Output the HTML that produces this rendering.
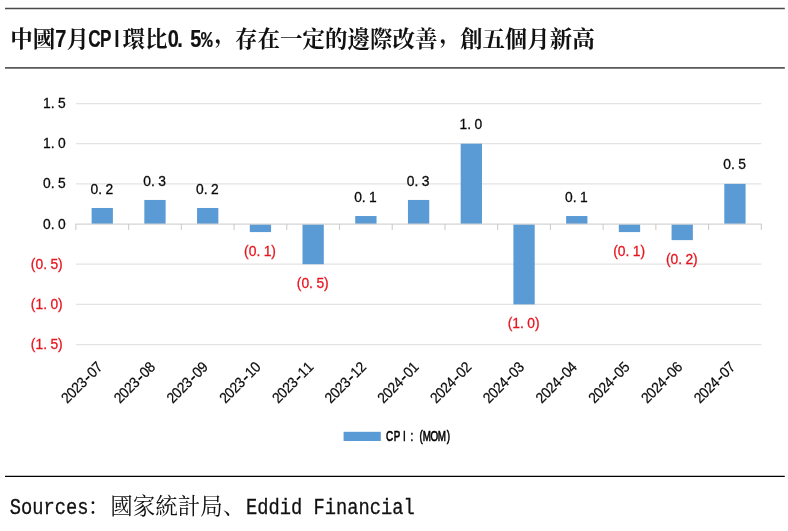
<!DOCTYPE html>
<html lang="zh-CN">
<head>
<meta charset="utf-8">
<title>中國7月CPI環比</title>
<style>
html,body{margin:0;padding:0;background:#fff;}
body{width:788px;height:531px;overflow:hidden;font-family:"Liberation Sans","Noto Serif CJK SC",sans-serif;}
svg{display:block;}
</style>
</head>
<body>
<svg width="788" height="531" viewBox="0 0 788 531">
<rect width="788" height="531" fill="#fff"/>
<line x1="5" x2="784.8" y1="8.5" y2="8.5" stroke="#4a4a4a" stroke-width="1.3"/>
<line x1="5" x2="784.8" y1="67.9" y2="67.9" stroke="#5a5a5a" stroke-width="1.8"/>
<line x1="5" x2="784.8" y1="476.3" y2="476.3" stroke="#000" stroke-width="1.3"/>
<g id="title">
<text x="10.20 32.69" y="46.60 46.60" font-family='"Liberation Serif", "Noto Serif CJK SC", serif' font-size="22.485" font-weight="bold" fill="#111">中國</text>
<text transform="translate(55.17 46.60) scale(0.86 1)" x="6.54" y="0" text-anchor="middle" font-family='"Liberation Sans", sans-serif' font-size="23.2" font-weight="bold" fill="#111" stroke="#111" stroke-width="0.2">7</text>
<text x="66.41" y="46.60" font-family='"Liberation Serif", "Noto Serif CJK SC", serif' font-size="22.485" font-weight="bold" fill="#111">月</text>
<text transform="translate(88.90 46.60) scale(0.74 1)" x="7.60 22.79 37.98" y="0" text-anchor="middle" font-family='"Liberation Sans", sans-serif' font-size="23.2" font-weight="bold" fill="#111" stroke="#111" stroke-width="0.2">CPI</text>
<text x="122.62 145.11" y="46.60 46.60" font-family='"Liberation Serif", "Noto Serif CJK SC", serif' font-size="22.485" font-weight="bold" fill="#111">環比</text>
<text transform="translate(167.59 46.60) scale(0.86 1)" x="6.54 14.38 32.68 45.75" y="0" text-anchor="middle" font-family='"Liberation Sans", sans-serif' font-size="23.2" font-weight="bold" fill="#111" stroke="#111" stroke-width="0.2">0.5<tspan font-family='"Liberation Mono", monospace' font-size="22.5">%</tspan></text>
<text x="214.56 235.05 257.53 280.02 302.50 324.99 347.48 369.96 392.44 414.93 439.41 459.90 482.38 504.87 527.36 549.84 572.33" y="42.30 46.60 46.60 46.60 46.60 46.60 46.60 46.60 46.60 46.60 42.30 46.60 46.60 46.60 46.60 46.60 46.60" font-family='"Liberation Serif", "Noto Serif CJK SC", serif' font-size="22.485" font-weight="bold" fill="#111">，存在一定的邊際改善，創五個月新高</text>
</g>
<line x1="75.90" x2="761.30" y1="344.56" y2="344.56" stroke="#e3e3e3" stroke-width="1.2"/>
<line x1="75.90" x2="761.30" y1="304.39" y2="304.39" stroke="#e3e3e3" stroke-width="1.2"/>
<line x1="75.90" x2="761.30" y1="264.22" y2="264.22" stroke="#e3e3e3" stroke-width="1.2"/>
<line x1="75.90" x2="761.30" y1="183.88" y2="183.88" stroke="#e3e3e3" stroke-width="1.2"/>
<line x1="75.90" x2="761.30" y1="143.71" y2="143.71" stroke="#e3e3e3" stroke-width="1.2"/>
<line x1="75.90" x2="761.30" y1="103.54" y2="103.54" stroke="#e3e3e3" stroke-width="1.2"/>
<rect x="91.61" y="207.98" width="21.30" height="16.07" fill="#5b9bd5"/>
<rect x="144.33" y="199.95" width="21.30" height="24.10" fill="#5b9bd5"/>
<rect x="197.06" y="207.98" width="21.30" height="16.07" fill="#5b9bd5"/>
<rect x="249.78" y="224.05" width="21.30" height="8.03" fill="#5b9bd5"/>
<rect x="302.50" y="224.05" width="21.30" height="40.17" fill="#5b9bd5"/>
<rect x="355.23" y="216.02" width="21.30" height="8.03" fill="#5b9bd5"/>
<rect x="407.95" y="199.95" width="21.30" height="24.10" fill="#5b9bd5"/>
<rect x="460.67" y="143.71" width="21.30" height="80.34" fill="#5b9bd5"/>
<rect x="513.40" y="224.05" width="21.30" height="80.34" fill="#5b9bd5"/>
<rect x="566.12" y="216.02" width="21.30" height="8.03" fill="#5b9bd5"/>
<rect x="618.84" y="224.05" width="21.30" height="8.03" fill="#5b9bd5"/>
<rect x="671.57" y="224.05" width="21.30" height="16.07" fill="#5b9bd5"/>
<rect x="724.29" y="183.88" width="21.30" height="40.17" fill="#5b9bd5"/>
<line x1="75.30" x2="761.90" y1="224.05" y2="224.05" stroke="#d4d4d4" stroke-width="1.3"/>
<line x1="75.90" x2="75.90" y1="224.05" y2="230.05" stroke="#cdcdcd" stroke-width="1.1"/>
<line x1="128.62" x2="128.62" y1="224.05" y2="230.05" stroke="#cdcdcd" stroke-width="1.1"/>
<line x1="181.35" x2="181.35" y1="224.05" y2="230.05" stroke="#cdcdcd" stroke-width="1.1"/>
<line x1="234.07" x2="234.07" y1="224.05" y2="230.05" stroke="#cdcdcd" stroke-width="1.1"/>
<line x1="286.79" x2="286.79" y1="224.05" y2="230.05" stroke="#cdcdcd" stroke-width="1.1"/>
<line x1="339.52" x2="339.52" y1="224.05" y2="230.05" stroke="#cdcdcd" stroke-width="1.1"/>
<line x1="392.24" x2="392.24" y1="224.05" y2="230.05" stroke="#cdcdcd" stroke-width="1.1"/>
<line x1="444.96" x2="444.96" y1="224.05" y2="230.05" stroke="#cdcdcd" stroke-width="1.1"/>
<line x1="497.68" x2="497.68" y1="224.05" y2="230.05" stroke="#cdcdcd" stroke-width="1.1"/>
<line x1="550.41" x2="550.41" y1="224.05" y2="230.05" stroke="#cdcdcd" stroke-width="1.1"/>
<line x1="603.13" x2="603.13" y1="224.05" y2="230.05" stroke="#cdcdcd" stroke-width="1.1"/>
<line x1="655.85" x2="655.85" y1="224.05" y2="230.05" stroke="#cdcdcd" stroke-width="1.1"/>
<line x1="708.58" x2="708.58" y1="224.05" y2="230.05" stroke="#cdcdcd" stroke-width="1.1"/>
<line x1="761.30" x2="761.30" y1="224.05" y2="230.05" stroke="#cdcdcd" stroke-width="1.1"/>
<text transform="translate(101.86 193.58) scale(0.93 1)" x="-8.06 -1.83 8.06" y="0" text-anchor="middle" font-family='"Liberation Sans", sans-serif' font-size="14.9" font-weight="normal" fill="#0a0a0a" stroke="#0a0a0a" stroke-width="0.3">0.2</text>
<text transform="translate(154.58 185.55) scale(0.93 1)" x="-8.06 -1.83 8.06" y="0" text-anchor="middle" font-family='"Liberation Sans", sans-serif' font-size="14.9" font-weight="normal" fill="#0a0a0a" stroke="#0a0a0a" stroke-width="0.3">0.3</text>
<text transform="translate(207.31 193.58) scale(0.93 1)" x="-8.06 -1.83 8.06" y="0" text-anchor="middle" font-family='"Liberation Sans", sans-serif' font-size="14.9" font-weight="normal" fill="#0a0a0a" stroke="#0a0a0a" stroke-width="0.3">0.2</text>
<text transform="translate(260.03 255.88) scale(0.93 1)" x="-14.62 -8.06 -1.83 8.06 14.62" y="0" text-anchor="middle" font-family='"Liberation Sans", sans-serif' font-size="14.9" font-weight="normal" fill="#e8141e" stroke="#e8141e" stroke-width="0.3">(0.1)</text>
<text transform="translate(312.75 288.02) scale(0.93 1)" x="-14.62 -8.06 -1.83 8.06 14.62" y="0" text-anchor="middle" font-family='"Liberation Sans", sans-serif' font-size="14.9" font-weight="normal" fill="#e8141e" stroke="#e8141e" stroke-width="0.3">(0.5)</text>
<text transform="translate(365.48 201.62) scale(0.93 1)" x="-8.06 -1.83 8.06" y="0" text-anchor="middle" font-family='"Liberation Sans", sans-serif' font-size="14.9" font-weight="normal" fill="#0a0a0a" stroke="#0a0a0a" stroke-width="0.3">0.1</text>
<text transform="translate(418.20 185.55) scale(0.93 1)" x="-8.06 -1.83 8.06" y="0" text-anchor="middle" font-family='"Liberation Sans", sans-serif' font-size="14.9" font-weight="normal" fill="#0a0a0a" stroke="#0a0a0a" stroke-width="0.3">0.3</text>
<text transform="translate(470.92 129.31) scale(0.93 1)" x="-8.06 -1.83 8.06" y="0" text-anchor="middle" font-family='"Liberation Sans", sans-serif' font-size="14.9" font-weight="normal" fill="#0a0a0a" stroke="#0a0a0a" stroke-width="0.3">1.0</text>
<text transform="translate(523.65 328.19) scale(0.93 1)" x="-14.62 -8.06 -1.83 8.06 14.62" y="0" text-anchor="middle" font-family='"Liberation Sans", sans-serif' font-size="14.9" font-weight="normal" fill="#e8141e" stroke="#e8141e" stroke-width="0.3">(1.0)</text>
<text transform="translate(576.37 201.62) scale(0.93 1)" x="-8.06 -1.83 8.06" y="0" text-anchor="middle" font-family='"Liberation Sans", sans-serif' font-size="14.9" font-weight="normal" fill="#0a0a0a" stroke="#0a0a0a" stroke-width="0.3">0.1</text>
<text transform="translate(629.09 255.88) scale(0.93 1)" x="-14.62 -8.06 -1.83 8.06 14.62" y="0" text-anchor="middle" font-family='"Liberation Sans", sans-serif' font-size="14.9" font-weight="normal" fill="#e8141e" stroke="#e8141e" stroke-width="0.3">(0.1)</text>
<text transform="translate(681.82 263.92) scale(0.93 1)" x="-14.62 -8.06 -1.83 8.06 14.62" y="0" text-anchor="middle" font-family='"Liberation Sans", sans-serif' font-size="14.9" font-weight="normal" fill="#e8141e" stroke="#e8141e" stroke-width="0.3">(0.2)</text>
<text transform="translate(734.54 169.48) scale(0.93 1)" x="-8.06 -1.83 8.06" y="0" text-anchor="middle" font-family='"Liberation Sans", sans-serif' font-size="14.9" font-weight="normal" fill="#0a0a0a" stroke="#0a0a0a" stroke-width="0.3">0.5</text>
<text transform="translate(65.50 349.06) scale(0.93 1)" x="-34.78 -28.23 -21.99 -12.10 -5.54" y="0" text-anchor="middle" font-family='"Liberation Sans", sans-serif' font-size="14.9" font-weight="normal" fill="#e8141e" stroke="#e8141e" stroke-width="0.3">(1.5)</text>
<text transform="translate(65.50 308.89) scale(0.93 1)" x="-34.78 -28.23 -21.99 -12.10 -5.54" y="0" text-anchor="middle" font-family='"Liberation Sans", sans-serif' font-size="14.9" font-weight="normal" fill="#e8141e" stroke="#e8141e" stroke-width="0.3">(1.0)</text>
<text transform="translate(65.50 268.72) scale(0.93 1)" x="-34.78 -28.23 -21.99 -12.10 -5.54" y="0" text-anchor="middle" font-family='"Liberation Sans", sans-serif' font-size="14.9" font-weight="normal" fill="#e8141e" stroke="#e8141e" stroke-width="0.3">(0.5)</text>
<text transform="translate(65.50 228.55) scale(0.93 1)" x="-20.16 -13.92 -4.03" y="0" text-anchor="middle" font-family='"Liberation Sans", sans-serif' font-size="14.9" font-weight="normal" fill="#0a0a0a" stroke="#0a0a0a" stroke-width="0.3">0.0</text>
<text transform="translate(65.50 188.38) scale(0.93 1)" x="-20.16 -13.92 -4.03" y="0" text-anchor="middle" font-family='"Liberation Sans", sans-serif' font-size="14.9" font-weight="normal" fill="#0a0a0a" stroke="#0a0a0a" stroke-width="0.3">0.5</text>
<text transform="translate(65.50 148.21) scale(0.93 1)" x="-20.16 -13.92 -4.03" y="0" text-anchor="middle" font-family='"Liberation Sans", sans-serif' font-size="14.9" font-weight="normal" fill="#0a0a0a" stroke="#0a0a0a" stroke-width="0.3">1.0</text>
<text transform="translate(65.50 108.04) scale(0.93 1)" x="-20.16 -13.92 -4.03" y="0" text-anchor="middle" font-family='"Liberation Sans", sans-serif' font-size="14.9" font-weight="normal" fill="#0a0a0a" stroke="#0a0a0a" stroke-width="0.3">1.5</text>
<text transform="translate(103.26 368.00) rotate(-45) scale(0.92 1)" x="-51.22 -43.34 -35.46 -27.58 -19.70 -11.82 -3.94" y="0" text-anchor="middle" font-family='"Liberation Sans", sans-serif' font-size="14.9" font-weight="normal" fill="#0a0a0a" stroke="#0a0a0a" stroke-width="0.2">2023<tspan font-size="21" dy="1.5" stroke-width="0">-</tspan><tspan dy="-1.5">07</tspan></text>
<text transform="translate(155.98 368.00) rotate(-45) scale(0.92 1)" x="-51.22 -43.34 -35.46 -27.58 -19.70 -11.82 -3.94" y="0" text-anchor="middle" font-family='"Liberation Sans", sans-serif' font-size="14.9" font-weight="normal" fill="#0a0a0a" stroke="#0a0a0a" stroke-width="0.2">2023<tspan font-size="21" dy="1.5" stroke-width="0">-</tspan><tspan dy="-1.5">08</tspan></text>
<text transform="translate(208.71 368.00) rotate(-45) scale(0.92 1)" x="-51.22 -43.34 -35.46 -27.58 -19.70 -11.82 -3.94" y="0" text-anchor="middle" font-family='"Liberation Sans", sans-serif' font-size="14.9" font-weight="normal" fill="#0a0a0a" stroke="#0a0a0a" stroke-width="0.2">2023<tspan font-size="21" dy="1.5" stroke-width="0">-</tspan><tspan dy="-1.5">09</tspan></text>
<text transform="translate(261.43 368.00) rotate(-45) scale(0.92 1)" x="-51.22 -43.34 -35.46 -27.58 -19.70 -11.82 -3.94" y="0" text-anchor="middle" font-family='"Liberation Sans", sans-serif' font-size="14.9" font-weight="normal" fill="#0a0a0a" stroke="#0a0a0a" stroke-width="0.2">2023<tspan font-size="21" dy="1.5" stroke-width="0">-</tspan><tspan dy="-1.5">10</tspan></text>
<text transform="translate(314.15 368.00) rotate(-45) scale(0.92 1)" x="-51.22 -43.34 -35.46 -27.58 -19.70 -11.82 -3.94" y="0" text-anchor="middle" font-family='"Liberation Sans", sans-serif' font-size="14.9" font-weight="normal" fill="#0a0a0a" stroke="#0a0a0a" stroke-width="0.2">2023<tspan font-size="21" dy="1.5" stroke-width="0">-</tspan><tspan dy="-1.5">11</tspan></text>
<text transform="translate(366.88 368.00) rotate(-45) scale(0.92 1)" x="-51.22 -43.34 -35.46 -27.58 -19.70 -11.82 -3.94" y="0" text-anchor="middle" font-family='"Liberation Sans", sans-serif' font-size="14.9" font-weight="normal" fill="#0a0a0a" stroke="#0a0a0a" stroke-width="0.2">2023<tspan font-size="21" dy="1.5" stroke-width="0">-</tspan><tspan dy="-1.5">12</tspan></text>
<text transform="translate(419.60 368.00) rotate(-45) scale(0.92 1)" x="-51.22 -43.34 -35.46 -27.58 -19.70 -11.82 -3.94" y="0" text-anchor="middle" font-family='"Liberation Sans", sans-serif' font-size="14.9" font-weight="normal" fill="#0a0a0a" stroke="#0a0a0a" stroke-width="0.2">2024<tspan font-size="21" dy="1.5" stroke-width="0">-</tspan><tspan dy="-1.5">01</tspan></text>
<text transform="translate(472.32 368.00) rotate(-45) scale(0.92 1)" x="-51.22 -43.34 -35.46 -27.58 -19.70 -11.82 -3.94" y="0" text-anchor="middle" font-family='"Liberation Sans", sans-serif' font-size="14.9" font-weight="normal" fill="#0a0a0a" stroke="#0a0a0a" stroke-width="0.2">2024<tspan font-size="21" dy="1.5" stroke-width="0">-</tspan><tspan dy="-1.5">02</tspan></text>
<text transform="translate(525.05 368.00) rotate(-45) scale(0.92 1)" x="-51.22 -43.34 -35.46 -27.58 -19.70 -11.82 -3.94" y="0" text-anchor="middle" font-family='"Liberation Sans", sans-serif' font-size="14.9" font-weight="normal" fill="#0a0a0a" stroke="#0a0a0a" stroke-width="0.2">2024<tspan font-size="21" dy="1.5" stroke-width="0">-</tspan><tspan dy="-1.5">03</tspan></text>
<text transform="translate(577.77 368.00) rotate(-45) scale(0.92 1)" x="-51.22 -43.34 -35.46 -27.58 -19.70 -11.82 -3.94" y="0" text-anchor="middle" font-family='"Liberation Sans", sans-serif' font-size="14.9" font-weight="normal" fill="#0a0a0a" stroke="#0a0a0a" stroke-width="0.2">2024<tspan font-size="21" dy="1.5" stroke-width="0">-</tspan><tspan dy="-1.5">04</tspan></text>
<text transform="translate(630.49 368.00) rotate(-45) scale(0.92 1)" x="-51.22 -43.34 -35.46 -27.58 -19.70 -11.82 -3.94" y="0" text-anchor="middle" font-family='"Liberation Sans", sans-serif' font-size="14.9" font-weight="normal" fill="#0a0a0a" stroke="#0a0a0a" stroke-width="0.2">2024<tspan font-size="21" dy="1.5" stroke-width="0">-</tspan><tspan dy="-1.5">05</tspan></text>
<text transform="translate(683.22 368.00) rotate(-45) scale(0.92 1)" x="-51.22 -43.34 -35.46 -27.58 -19.70 -11.82 -3.94" y="0" text-anchor="middle" font-family='"Liberation Sans", sans-serif' font-size="14.9" font-weight="normal" fill="#0a0a0a" stroke="#0a0a0a" stroke-width="0.2">2024<tspan font-size="21" dy="1.5" stroke-width="0">-</tspan><tspan dy="-1.5">06</tspan></text>
<text transform="translate(735.94 368.00) rotate(-45) scale(0.92 1)" x="-51.22 -43.34 -35.46 -27.58 -19.70 -11.82 -3.94" y="0" text-anchor="middle" font-family='"Liberation Sans", sans-serif' font-size="14.9" font-weight="normal" fill="#0a0a0a" stroke="#0a0a0a" stroke-width="0.2">2024<tspan font-size="21" dy="1.5" stroke-width="0">-</tspan><tspan dy="-1.5">07</tspan></text>
<rect x="343.6" y="431.8" width="37.2" height="9.2" fill="#5b9bd5"/>
<text transform="translate(385.70 440.80) scale(0.71 1)" x="5.28 15.85 26.41 36.97 50.00 58.10 68.66 79.23 88.38" y="0" text-anchor="middle" font-family='"Liberation Sans", sans-serif' font-size="13.9" font-weight="normal" fill="#000" stroke="#000" stroke-width="0.6">CPI:(MOM)</text>
<g id="source">
<text transform="translate(9.70 513.70) scale(0.872 1)" x="6.45 19.35 32.25 45.15 58.06 70.96 83.86" y="0" text-anchor="middle" font-family='"Liberation Mono", monospace' font-size="21.5" font-weight="normal" fill="#111" xml:space="preserve" stroke="#111" stroke-width="0.3">Sources</text>
<text x="87.75 110.25 132.75 155.25 177.75 200.25 222.75" y="513.70" font-family='"Liberation Serif", "Noto Serif CJK SC", serif' font-size="22.5" fill="#111">：國家統計局、</text>
<text transform="translate(245.95 513.70) scale(0.872 1)" x="6.45 19.35 32.25 45.15 58.06 70.96 83.86 96.76 109.66 122.56 135.46 148.37 161.27 174.17 187.07" y="0" text-anchor="middle" font-family='"Liberation Mono", monospace' font-size="21.5" font-weight="normal" fill="#111" xml:space="preserve" stroke="#111" stroke-width="0.3">Eddid Financial</text>
</g>
</svg>
</body>
</html>
